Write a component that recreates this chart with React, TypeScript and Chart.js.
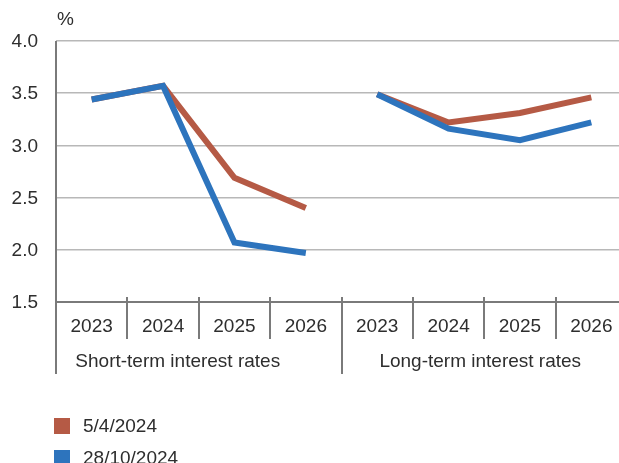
import React, { useEffect, useRef } from "react";
import { Chart, registerables } from "chart.js";

Chart.register(...registerables);

// Categories: four years for each of the two rate groups
const years = ["2023", "2024", "2025", "2026", "2023", "2024", "2025", "2026"];
const groupLabels = ["Short-term interest rates", "Long-term interest rates"];
const yTickLabels = ["1.5", "2.0", "2.5", "3.0", "3.5", "4.0"];

// Forecast vintages, short-term years then long-term years
const april2024 = [3.44, 3.57, 2.69, 2.4, 3.49, 3.22, 3.31, 3.46];
const october2024 = [3.44, 3.57, 2.07, 1.97, 3.49, 3.16, 3.05, 3.22];
const seriesNames = ["5/4/2024", "28/10/2024"];

const RED = "#B55A45";
const BLUE = "#2D74BD";
const FONT = "'Liberation Sans', Arial, Helvetica, sans-serif";
const TEXT = "#2E2E2E";
const FONT_SIZE = 19;

const axisPlugin = {
  id: "customAxes",
  afterDraw(chart: any) {
    const { ctx, chartArea, scales } = chart;
    const x = scales.x;
    const y = scales.y;
    const left = chartArea.left;
    const bottom = chartArea.bottom;
    const step = x.getPixelForValue(1) - x.getPixelForValue(0);
    ctx.save();

    // y tick labels
    ctx.font = `${FONT_SIZE}px ${FONT}`;
    ctx.fillStyle = TEXT;
    ctx.textAlign = "right";
    ctx.textBaseline = "middle";
    yTickLabels.forEach((t) => {
      ctx.fillText(t, left - 18, y.getPixelForValue(parseFloat(t)) + 1);
    });
    ctx.textAlign = "left";
    ctx.fillText("%", left + 1, 20);

    // axis lines
    ctx.strokeStyle = "#7A7A7A";
    ctx.lineWidth = 2;
    ctx.beginPath();
    ctx.moveTo(left, chartArea.top);
    ctx.lineTo(left, bottom + 72);
    ctx.moveTo(left, bottom);
    ctx.lineTo(chartArea.right, bottom);
    ctx.stroke();

    // category separators
    for (let i = 1; i < years.length; i++) {
      const px = Math.round(x.getPixelForValue(i) - step / 2);
      const longer = i === 4;
      ctx.beginPath();
      ctx.moveTo(px, bottom - 5);
      ctx.lineTo(px, bottom + (longer ? 72 : 37));
      ctx.stroke();
    }

    // year labels
    ctx.textAlign = "center";
    ctx.fillStyle = TEXT;
    years.forEach((yr, i) => {
      ctx.fillText(yr, x.getPixelForValue(i), bottom + 25);
    });

    // group labels
    const g1 = (x.getPixelForValue(0) + x.getPixelForValue(3)) / 2 - 21;
    const g2 = (x.getPixelForValue(4) + x.getPixelForValue(7)) / 2 - 4;
    ctx.fillText(groupLabels[0], g1, bottom + 60);
    ctx.fillText(groupLabels[1], g2, bottom + 60);

    // legend
    const colors = [RED, BLUE];
    ctx.textAlign = "left";
    seriesNames.forEach((name, i) => {
      const cy = 426 + i * 32;
      ctx.fillStyle = colors[i];
      ctx.fillRect(54, cy - 8, 16, 16);
      ctx.fillStyle = TEXT;
      ctx.fillText(name, 83, cy + 1);
    });
    ctx.restore();
  },
};

// hide the connecting segment between the two groups
const gapSegment = (color: string) => ({
  borderColor: (c: any) => (c.p0DataIndex === 3 ? "transparent" : color),
});

export default function App() {
  const ref = useRef<HTMLCanvasElement>(null);

  useEffect(() => {
    const canvas = ref.current;
    if (!canvas) return;
    const chart = new Chart(canvas, {
      type: "line",
      data: {
        labels: years,
        datasets: [
          {
            label: seriesNames[0],
            data: april2024,
            borderColor: RED,
            backgroundColor: RED,
            borderWidth: 6,
            pointRadius: 0,
            tension: 0,
            order: 2,
            segment: gapSegment(RED),
          },
          {
            label: seriesNames[1],
            data: october2024,
            borderColor: BLUE,
            backgroundColor: BLUE,
            borderWidth: 6,
            pointRadius: 0,
            tension: 0,
            order: 1,
            segment: gapSegment(BLUE),
          },
        ],
      },
      options: {
        responsive: false,
        animation: false,
        events: [],
        layout: { padding: { left: 56, top: 41, right: 13, bottom: 161 } },
        plugins: { legend: { display: false }, tooltip: { enabled: false } },
        scales: {
          x: {
            type: "category",
            offset: true,
            grid: { display: false },
            border: { display: false },
            ticks: { display: false },
            afterFit: (s: any) => {
              s.height = 0;
            },
          },
          y: {
            min: 1.5,
            max: 4.0,
            ticks: { display: false, stepSize: 0.5 },
            border: { display: false },
            grid: { color: "#B8B8B8", lineWidth: 1.5, drawTicks: false },
            afterFit: (s: any) => {
              s.width = 0;
            },
          },
        },
      },
      plugins: [axisPlugin],
    });
    return () => chart.destroy();
  }, []);

  return (
    <div
      style={{
        position: "fixed",
        left: 0,
        top: 0,
        width: 619,
        height: 463,
        overflow: "hidden",
        background: "#fff",
      }}
    >
      <canvas ref={ref} width={640} height={463} style={{ width: 640, height: 463 }} />
    </div>
  );
}
